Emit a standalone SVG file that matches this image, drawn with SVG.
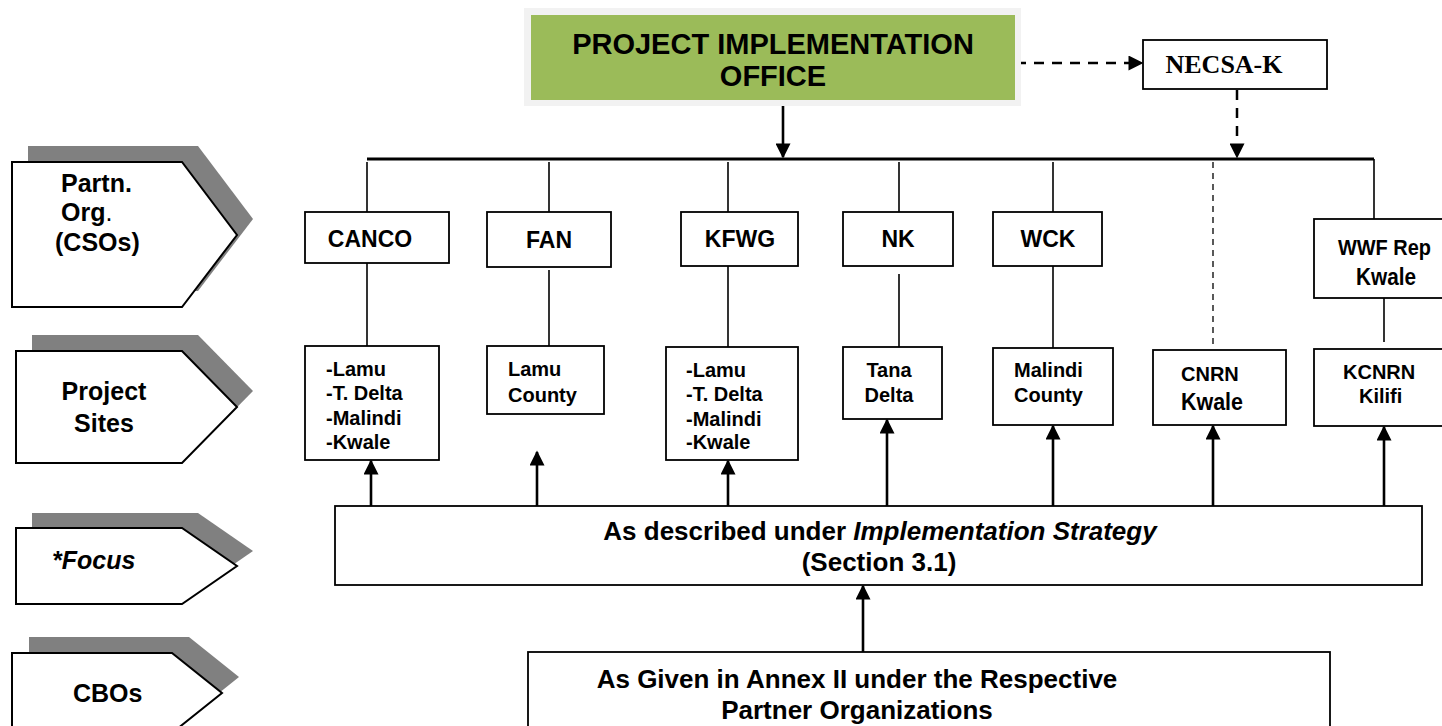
<svg xmlns="http://www.w3.org/2000/svg" width="1442" height="726" viewBox="0 0 1442 726">
<style>
  text { font-family: "Liberation Sans", Arial, sans-serif; font-weight: bold; fill: #000; }
  .box { fill: #fff; stroke: #000; stroke-width: 1.8; }
  .shadow { fill: #808080; }
  .tag { fill: #fff; stroke: #000; stroke-width: 2; }
  .ln { stroke: #000; stroke-width: 1.6; fill: none; }
  .bus { stroke: #000; stroke-width: 3; fill: none; }
  .arr { stroke: #000; stroke-width: 2.6; fill: none; marker-end: url(#ah); }
  .dash { stroke: #000; stroke-width: 2.5; fill: none; stroke-dasharray: 10 8; marker-end: url(#ah); }
  .thin-dash { stroke: #000; stroke-width: 1.3; fill: none; stroke-dasharray: 6 5; }
  .lbl { font-size: 25px; }
  .cso { font-size: 23px; }
  .site { font-size: 20px; }
  .big { font-size: 26px; }
</style>
<defs>
  <marker id="ah" viewBox="0 0 10 10" refX="9" refY="5" markerWidth="16" markerHeight="15" markerUnits="userSpaceOnUse" orient="auto">
    <path d="M0,0 L10,5 L0,10 z" fill="#000"/>
  </marker>
</defs>

<!-- Left side tags -->
<g id="tag-partn">
  <polygon class="shadow" points="28,146 198,146 253,219 198,291 28,291"/>
  <polygon class="tag" points="12,162 182,162 237,235 182,307 12,307"/>
  <text class="lbl" x="61" y="192">Partn.</text>
  <text class="lbl" x="61" y="221">Org<tspan font-weight="normal">.</tspan></text>
  <text class="lbl" x="55" y="251">(CSOs)</text>
</g>
<g id="tag-sites">
  <polygon class="shadow" points="32,335 198,335 253,391 198,447 32,447"/>
  <polygon class="tag" points="16,351 182,351 237,407 182,463 16,463"/>
  <text class="lbl" x="104" y="400" text-anchor="middle">Project</text>
  <text class="lbl" x="104" y="432" text-anchor="middle">Sites</text>
</g>
<g id="tag-focus">
  <polygon class="shadow" points="32,513 198,513 253,551 198,589 32,589"/>
  <polygon class="tag" points="16,528 182,528 237,566 182,604 16,604"/>
  <text class="lbl" x="52" y="569" font-style="italic">*Focus</text>
</g>
<g id="tag-cbos">
  <polygon class="shadow" points="29,637 189,637 239,677 189,717 29,717"/>
  <polygon class="tag" points="12,653 172,653 222,693 172,733 12,733"/>
  <text class="lbl" x="73" y="702">CBOs</text>
</g>

<!-- Connectors -->
<g id="connectors">
  <line class="arr" x1="783" y1="105" x2="783" y2="157"/>
  <line class="bus" x1="367" y1="159" x2="1374" y2="159"/>
  <line class="dash" x1="1016" y1="63" x2="1142" y2="63"/>
  <line class="dash" x1="1237" y1="90" x2="1237" y2="157"/>
  <line class="thin-dash" x1="1213" y1="162" x2="1213" y2="348"/>
  <line class="ln" x1="1374" y1="159" x2="1374" y2="219"/>
  <line class="ln" x1="367" y1="162" x2="367" y2="212"/>
  <line class="ln" x1="549" y1="162" x2="549" y2="212"/>
  <line class="ln" x1="728" y1="162" x2="728" y2="212"/>
  <line class="ln" x1="899" y1="162" x2="899" y2="212"/>
  <line class="ln" x1="1053" y1="162" x2="1053" y2="212"/>
  <line class="ln" x1="367" y1="263" x2="367" y2="346"/>
  <line class="ln" x1="549" y1="270" x2="549" y2="346"/>
  <line class="ln" x1="728" y1="266" x2="728" y2="347"/>
  <line class="ln" x1="899" y1="274" x2="899" y2="347"/>
  <line class="ln" x1="1053" y1="266" x2="1053" y2="348"/>
  <line class="ln" x1="1384" y1="298" x2="1384" y2="342"/>
  <line class="arr" x1="371" y1="506" x2="371" y2="461"/>
  <line class="arr" x1="537" y1="506" x2="537" y2="452"/>
  <line class="arr" x1="728" y1="506" x2="728" y2="461"/>
  <line class="arr" x1="887" y1="506" x2="887" y2="420"/>
  <line class="arr" x1="1053" y1="506" x2="1053" y2="426"/>
  <line class="arr" x1="1213" y1="506" x2="1213" y2="426"/>
  <line class="arr" x1="1384" y1="506" x2="1384" y2="427"/>
  <line class="arr" x1="863" y1="652" x2="863" y2="586"/>
</g>

<!-- Top -->
<g id="pio">
  <rect x="524" y="8" width="497" height="98" fill="#f2f2f2"/>
  <rect x="531" y="15" width="484" height="85" fill="#9bbb59"/>
  <text x="773" y="54" font-size="29" text-anchor="middle">PROJECT IMPLEMENTATION</text>
  <text x="773" y="86" font-size="29" text-anchor="middle">OFFICE</text>
</g>
<g id="necsa">
  <rect class="box" x="1143" y="40" width="184" height="49"/>
  <text x="1224" y="73" font-size="26" text-anchor="middle" style="font-family:'Liberation Serif','Times New Roman',serif">NECSA-K</text>
</g>

<!-- CSOs -->
<g id="canco">
  <rect class="box" x="305" y="212" width="144" height="51"/>
  <text class="cso" x="370" y="247" text-anchor="middle">CANCO</text>
</g>
<g id="fan">
  <rect class="box" x="487" y="212" width="124" height="55"/>
  <text class="cso" x="549" y="248" text-anchor="middle">FAN</text>
</g>
<g id="kfwg">
  <rect class="box" x="681" y="212" width="117" height="54"/>
  <text class="cso" x="740" y="247" text-anchor="middle">KFWG</text>
</g>
<g id="nk">
  <rect class="box" x="843" y="212" width="110" height="54"/>
  <text class="cso" x="898" y="247" text-anchor="middle">NK</text>
</g>
<g id="wck">
  <rect class="box" x="993" y="212" width="109" height="54"/>
  <text class="cso" x="1048" y="247" text-anchor="middle">WCK</text>
</g>
<g id="wwf">
  <rect class="box" x="1314" y="219" width="140" height="79"/>
  <text x="1338" y="255" font-size="22" textLength="93" lengthAdjust="spacingAndGlyphs">WWF Rep</text>
  <text x="1356" y="285" font-size="23" textLength="60" lengthAdjust="spacingAndGlyphs">Kwale</text>
</g>

<!-- Sites -->
<g id="site-canco">
  <rect class="box" x="305" y="346" width="134" height="114"/>
  <text class="site" x="326" y="376">-Lamu</text>
  <text class="site" x="326" y="400">-T. Delta</text>
  <text class="site" x="326" y="425">-Malindi</text>
  <text class="site" x="326" y="449">-Kwale</text>
</g>
<g id="site-fan">
  <rect class="box" x="487" y="346" width="117" height="68"/>
  <text class="site" x="508" y="376">Lamu</text>
  <text class="site" x="508" y="402">County</text>
</g>
<g id="site-kfwg">
  <rect class="box" x="666" y="347" width="132" height="113"/>
  <text class="site" x="686" y="377">-Lamu</text>
  <text class="site" x="686" y="401">-T. Delta</text>
  <text class="site" x="686" y="426">-Malindi</text>
  <text class="site" x="686" y="449">-Kwale</text>
</g>
<g id="site-nk">
  <rect class="box" x="843" y="347" width="99" height="72"/>
  <text class="site" x="889" y="377" text-anchor="middle">Tana</text>
  <text class="site" x="889" y="402" text-anchor="middle">Delta</text>
</g>
<g id="site-wck">
  <rect class="box" x="993" y="348" width="120" height="77"/>
  <text class="site" x="1014" y="377">Malindi</text>
  <text class="site" x="1014" y="402">County</text>
</g>
<g id="site-cnrn">
  <rect class="box" x="1153" y="350" width="133" height="75"/>
  <text class="site" x="1181" y="381">CNRN</text>
  <text x="1181" y="410" font-size="23" textLength="62" lengthAdjust="spacingAndGlyphs">Kwale</text>
</g>
<g id="site-kcnrn">
  <rect class="box" x="1314" y="349" width="140" height="77"/>
  <text class="site" x="1343" y="379">KCNRN</text>
  <text class="site" x="1359" y="403">Kilifi</text>
</g>

<!-- Focus -->
<g id="focus">
  <rect class="box" x="335" y="506" width="1087" height="79"/>
  <text class="big" x="880" y="540" text-anchor="middle">As described under <tspan font-style="italic">Implementation Strategy</tspan></text>
  <text class="big" x="879" y="571" text-anchor="middle">(Section 3.1)</text>
</g>

<!-- CBO -->
<g id="cbo">
  <rect class="box" x="528" y="652" width="802" height="90"/>
  <text class="big" x="857" y="688" text-anchor="middle">As Given in Annex II under the Respective</text>
  <text class="big" x="857" y="719" text-anchor="middle">Partner Organizations</text>
</g>
</svg>
